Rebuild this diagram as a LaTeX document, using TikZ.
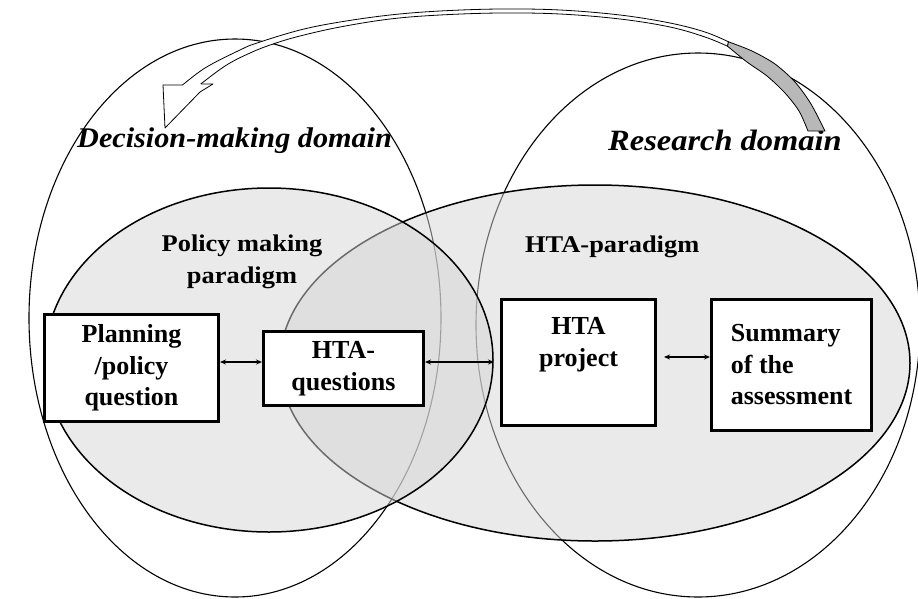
\documentclass[tikz,border=0pt]{standalone}
\usepackage{fontspec}
\setmainfont{Liberation Serif}
\newfontfamily\labelfont[FakeStretch=1.1]{Liberation Serif}
\newfontfamily\domainfont[FakeStretch=1.06]{Liberation Serif}
\newfontfamily\researchfont[FakeStretch=1.1]{Liberation Serif}
\usetikzlibrary{arrows.meta}
\tikzset{
  domainline/.style={draw=black, line width=1.1pt},
  paradigm/.style={fill=black!16, fill opacity=0.5, draw=black, draw opacity=1, line width=1.5pt},
  box/.style={draw=black, fill=white, line width=3pt, inner sep=0pt, font=\bfseries\fontsize{26}{31.5}\selectfont, align=center},
  link/.style={line width=1.3pt, {Stealth[length=6pt,width=5pt]}-{Stealth[length=6pt,width=5pt]}},
  domainlabel/.style={inner sep=0pt, font=\domainfont\bfseries\itshape\fontsize{28.5}{34}\selectfont},
  researchlabel/.style={inner sep=0pt, font=\researchfont\bfseries\itshape\fontsize{29.5}{34}\selectfont},
  paradigmlabel/.style={inner sep=0pt, font=\labelfont\bfseries\fontsize{24}{32}\selectfont, align=center},
  band/.style={draw=black, line width=0.8pt, line join=round}
}
\begin{document}
\begin{tikzpicture}[x=1pt,y=-1pt]
\useasboundingbox (0,0) rectangle (918,598);
\fill[white] (0,0) rectangle (918,598);
% domains
\draw[domainline] (235,318) ellipse [x radius=206, y radius=279];
\draw[domainline] (698,325) ellipse [x radius=222, y radius=272];
% paradigms
\path[paradigm] (595,363) ellipse [x radius=315, y radius=178];
\path[paradigm] (269,360) ellipse [x radius=224, y radius=172];
% labels
\node[domainlabel, anchor=base west] (dml) at (77,147) {Decision-making domain};
\node[researchlabel, anchor=base west] (rdl) at (608,150) {Research domain};
\node[paradigmlabel] (pml) at (242,262) {Policy making\\paradigm};
\node[paradigmlabel, anchor=base west] (htl) at (525,252) {HTA-paradigm};
% boxes
\node[box, minimum width=174pt, minimum height=107pt] (plan) at (131.5,368) {Planning\\/policy\\question};
\node[box, minimum width=160pt, minimum height=74pt] (hq) at (343.5,368.5) {HTA-\\questions};
\node[box, minimum width=154pt, minimum height=126pt] (proj) at (578.5,362.5) {HTA\\project\\\strut};
\node[box, minimum width=160pt, minimum height=131pt, align=left] (summ) at (791.5,365) {Summary\\of the\\assessment};
% links
\draw[link] ([yshift=6pt]plan.east) -- ([yshift=6pt]plan.east -| hq.west);
\draw[link, shorten >=6pt] ([yshift=6.5pt]hq.east) -- ([yshift=6.5pt]hq.east -| proj.west);
\draw[link, shorten <=7pt] ([yshift=5.5pt]proj.east) -- ([yshift=5.5pt]proj.east -| summ.west);
% curved arrow: white band
\filldraw[band, fill=white]
  plot[smooth, tension=0.6] coordinates {(179,88) (205,68) (240,50) (257,43) (300,30) (340,22) (390,15) (440,11) (500,9) (560,10) (620,15) (670,23) (705,32) (728.5,41.8)}
  -- plot[smooth, tension=0.6] coordinates {(727.5,46.2) (705,37) (670,27) (620,19) (560,14) (500,13) (440,15) (390,19) (340,27) (300,36) (273,44) (250,53) (225,66) (197,87)}
  -- cycle;
% shaded end of the band
\filldraw[band, fill=black!28] plot[smooth] coordinates {(728.5,41.8) (752,51) (775,64) (795,82) (811,104) (825,131)} -- (808,131) -- plot[smooth] coordinates {(808,131) (799,111) (785,93) (767,76) (747,62) (727.5,46.2)} -- cycle;
% arrow head
\coordinate (joinA) at (183,85);
\coordinate (headtop) at (163,85);
\coordinate (tip) at (165,128);
\coordinate (notch) at (200,92);
\coordinate (headright) at (213,84);
\coordinate (joinB) at (201,84);
\filldraw[band, fill=white] (joinA) -- (headtop) -- (tip) -- (notch) -- (headright) -- (joinB);
\end{tikzpicture}
\end{document}
